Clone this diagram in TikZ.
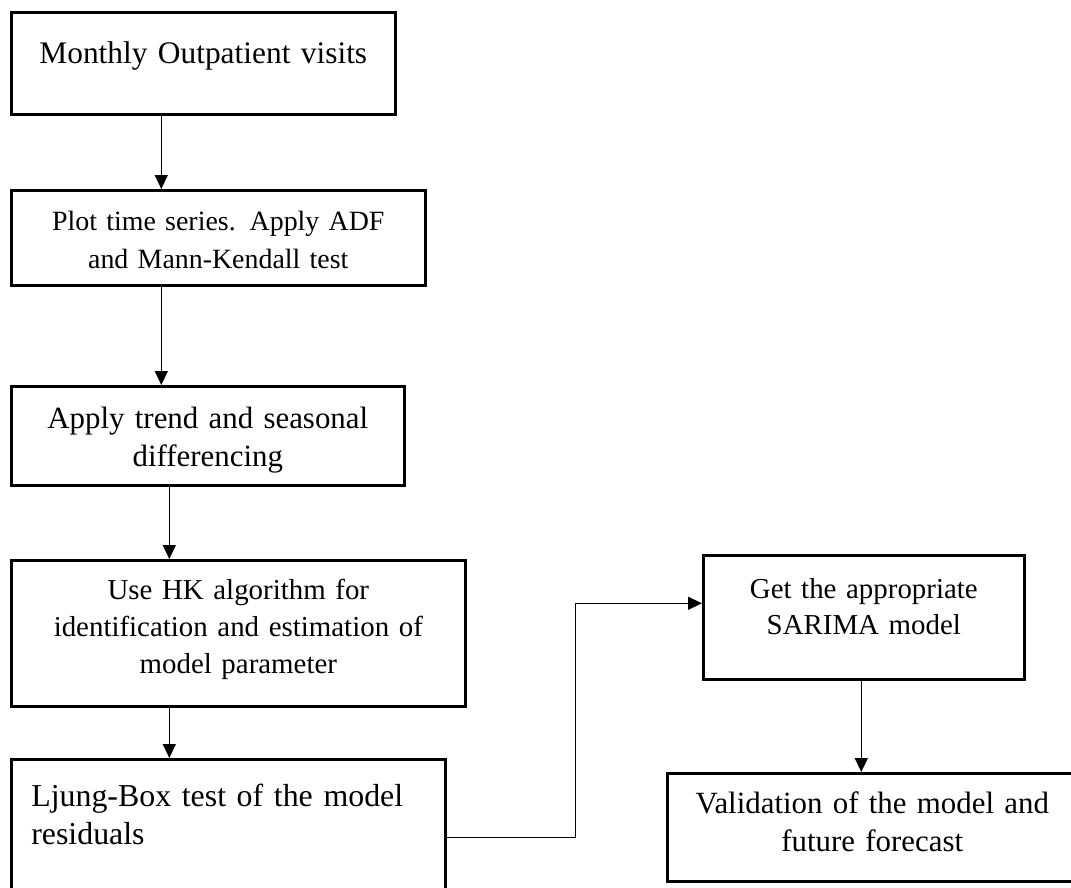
\documentclass[tikz,border=0pt]{standalone}
\usepackage{fontspec}
\setmainfont{Liberation Serif}
\usetikzlibrary{arrows.meta}

\begin{document}
\begin{tikzpicture}[x=1bp,y=-1bp,
  box/.style={draw=black,line width=2.6bp,inner sep=0pt,anchor=north west,align=center},
  conn/.style={line width=1.3bp,-{Triangle[length=14bp,width=13bp]}}]
  \path[use as bounding box,clip] (0,0) rectangle (1071,888);
%%
  % Node: Monthly Outpatient visits
  \node[box,text width=384bp,text height=51bp,text depth=51bp,
        font=\fontsize{31.5}{38}\selectfont] (outp) at (10,11) {Monthly Outpatient visits};
  % Node: Plot time series
  \node[box,text width=414bp,text height=40bp,text depth=55bp,
        font=\fontsize{28}{38}\selectfont] (plot) at (10,189) {Plot time series. Apply ADF\\and Mann-Kendall test};
  % Node: differencing
  \node[box,text width=393bp,text height=42bp,text depth=57bp,
        font=\fontsize{31}{38}\selectfont] (diff) at (10,385) {Apply trend and seasonal\\differencing};
  % Node: HK algorithm
  \node[box,text width=454bp,text height=39bp,text depth=107bp,
        font=\fontsize{29}{37}\selectfont] (hk) at (10,559) {Use HK algorithm for\\identification and estimation of\\model parameter};
  % Node: Ljung-Box test
  \node[box,align=left,inner xsep=20bp,text width=394bp,text height=47bp,text depth=109bp,
        font=\fontsize{32}{38}\selectfont] (ljung) at (10,758) {Ljung-Box test of the model\\residuals};
  % Node: SARIMA model
  \node[box,text width=321bp,text height=43bp,text depth=81bp,
        font=\fontsize{29}{36}\selectfont] (sarima) at (702,554) {Get the appropriate\\SARIMA model};
  % Node: Validation
  \node[box,text width=410bp,text height=40bp,text depth=68bp,
        font=\fontsize{31}{38}\selectfont] (valid) at (666,772) {Validation of the model and\\future forecast};
%
  % Edge: outp -> plot
  \draw[conn] ([xshift=-42bp]outp.south) -- ([xshift=-42bp]outp.south |- plot.north);
  % Edge: plot -> diff
  \draw[conn] ([xshift=-57bp]plot.south) -- ([xshift=-57bp]plot.south |- diff.north);
  % Edge: diff -> hk
  \draw[conn] ([xshift=-38.5bp]diff.south) -- ([xshift=-38.5bp]diff.south |- hk.north);
  % Edge: hk -> ljung
  \draw[conn] ([xshift=-69bp]hk.south) -- ([xshift=-69bp]hk.south |- ljung.north);
  % Edge: ljung -> sarima
  \draw[conn] (ljung.east) -- ++(129,0) |- ([yshift=14bp]sarima.west);
  % Edge: sarima -> valid
  \draw[conn] ([xshift=-2.5bp]sarima.south) -- ([xshift=-2.5bp]sarima.south |- valid.north);
%
\end{tikzpicture}
\end{document}
